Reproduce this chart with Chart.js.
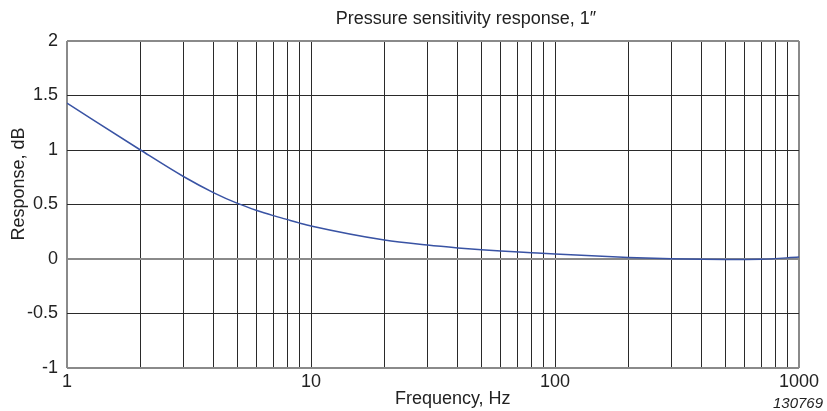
<!DOCTYPE html>
<html>
<head>
<meta charset="utf-8">
<script src="https://cdn.jsdelivr.net/npm/chart.js@4"></script>
<style>
  body { margin: 0; background: #fff; }
  #wrap { width: 827px; height: 411px; position: relative; }
</style>
</head>
<body>
<div id="wrap"><canvas id="chart"></canvas></div>
<script>
// frequency (Hz) and response (dB)
var freqs = [1, 2, 3, 4, 5, 6, 7, 8, 9, 10, 20, 30, 40, 50, 60, 80, 100, 200, 300, 400, 500, 700, 1000];
var response = [1.43, 1.0, 0.757, 0.607, 0.51, 0.445, 0.398, 0.361, 0.329, 0.303, 0.174, 0.128, 0.102, 0.085, 0.073, 0.057, 0.045, 0.014, 0.003, -0.002, -0.004, -0.002, 0.018];

var xGridTicks = [1, 2, 3, 4, 5, 6, 7, 8, 9, 10, 20, 30, 40, 50, 60, 70, 80, 90, 100, 200, 300, 400, 500, 600, 700, 800, 900, 1000];
var xLabels = [1, 10, 100, 1000];
var yTicks = [-1, -0.5, 0, 0.5, 1, 1.5, 2];

var chartTitle = 'Pressure sensitivity response, 1\u2033';
var xTitle = 'Frequency, Hz';
var yTitle = 'Response, dB';
var figNo = '130769';

var font = 'Liberation Sans, Arial, sans-serif';

var points = freqs.map(function (f, i) { return { x: f, y: response[i] }; });

// texts drawn around the plot area
var textPlugin = {
  id: 'texts',
  afterDraw: function (chart) {
    var c = chart.ctx;
    var a = chart.chartArea;
    c.save();
    c.fillStyle = '#222';
    c.font = '18px ' + font;
    c.textAlign = 'center';
    c.textBaseline = 'alphabetic';
    c.fillText(chartTitle, a.left + (a.right - a.left) * 0.545, 24);
    c.fillText(xTitle, a.left + (a.right - a.left) * 0.527, 404);
    c.save();
    c.translate(24, 184);
    c.rotate(-Math.PI / 2);
    c.fillText(yTitle, 0, 0);
    c.restore();
    c.font = 'italic 15px ' + font;
    c.textAlign = 'right';
    c.fillText(figNo, 823, 408);
    c.restore();
  }
};

new Chart(document.getElementById('chart'), {
  type: 'line',
  data: {
    datasets: [{
      data: points,
      borderColor: '#3953a4',
      borderWidth: 1.5,
      pointRadius: 0,
      fill: false,
      cubicInterpolationMode: 'monotone'
    }]
  },
  options: {
    responsive: true,
    maintainAspectRatio: false,
    animation: false,
    layout: { padding: { left: 0, right: 28, top: 41, bottom: 0 } },
    plugins: {
      legend: { display: false },
      title: { display: false },
      tooltip: { enabled: false }
    },
    scales: {
      x: {
        type: 'logarithmic',
        min: 1,
        max: 1000,
        afterBuildTicks: function (scale) {
          scale.ticks = xGridTicks.map(function (v) { return { value: v }; });
        },
        afterFit: function (scale) { scale.height = 43; },
        border: { display: false },
        grid: {
          drawTicks: false,
          color: function (ctx) {
            var v = ctx.tick && ctx.tick.value;
            return (v === 1 || v === 1000) ? '#8a8a8a' : '#2a2a2a';
          },
          lineWidth: function (ctx) {
            var v = ctx.tick && ctx.tick.value;
            return (v === 1 || v === 1000) ? 2 : 1;
          }
        },
        ticks: {
          autoSkip: false,
          maxRotation: 0,
          padding: 3,
          color: '#222',
          font: { family: font, size: 18 },
          callback: function (v) {
            return xLabels.indexOf(v) >= 0 ? String(v) : '';
          }
        }
      },
      y: {
        min: -1,
        max: 2,
        afterBuildTicks: function (scale) {
          scale.ticks = yTicks.map(function (v) { return { value: v }; });
        },
        afterFit: function (scale) { scale.width = 67; },
        border: { display: false },
        grid: {
          drawTicks: false,
          color: function (ctx) {
            var v = ctx.tick && ctx.tick.value;
            return (v === 0 || v === -1 || v === 2) ? '#8a8a8a' : '#2a2a2a';
          },
          lineWidth: function (ctx) {
            var v = ctx.tick && ctx.tick.value;
            return (v === 0 || v === -1 || v === 2) ? 2 : 1;
          }
        },
        ticks: {
          padding: 9,
          color: '#222',
          font: { family: font, size: 18 },
          callback: function (v) { return String(v); }
        }
      }
    }
  },
  plugins: [textPlugin]
});
</script>
</body>
</html>
